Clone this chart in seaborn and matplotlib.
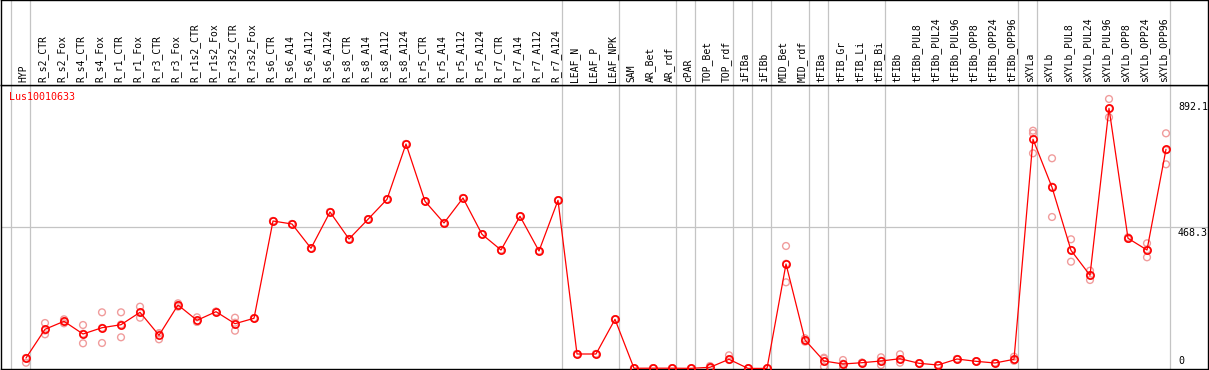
# -*- coding: utf-8 -*-
"""
Expression profile of one flax gene (Lus10010633) across tissues and treatments.

Mean expression is drawn as a red line with open markers, the individual
replicates as pale open circles behind it. Sample names sit in a header strip
above the plot, and grey rules separate the sample groups.
"""
import matplotlib
matplotlib.use("Agg")
import matplotlib.pyplot as plt
import pandas as pd
import seaborn as sns

# --- Data ---
GENE_ID = "Lus10010633"

SAMPLES = [
    "HYP", "R_s2_CTR", "R_s2_Fox", "R_s4_CTR", "R_s4_Fox", "R_r1_CTR", "R_r1_Fox",
    "R_r3_CTR", "R_r3_Fox", "R_r1s2_CTR", "R_r1s2_Fox", "R_r3s2_CTR", "R_r3s2_Fox",
    "R_s6_CTR", "R_s6_A14", "R_s6_A112", "R_s6_A124", "R_s8_CTR", "R_s8_A14",
    "R_s8_A112", "R_s8_A124", "R_r5_CTR", "R_r5_A14", "R_r5_A112", "R_r5_A124",
    "R_r7_CTR", "R_r7_A14", "R_r7_A112", "R_r7_A124", "LEAF_N", "LEAF_P", "LEAF_NPK",
    "SAM", "AR_Bet", "AR_rdf", "cPAR", "TOP_Bet", "TOP_rdf", "iFIBa", "iFIBb",
    "MID_Bet", "MID_rdf", "tFIBa", "tFIB_Gr", "tFIB_Li", "tFIB_Bi", "tFIBb",
    "tFIBb_PUL8", "tFIBb_PUL24", "tFIBb_PUL96", "tFIBb_OPP8", "tFIBb_OPP24",
    "tFIBb_OPP96", "sXYLa", "sXYLb", "sXYLb_PUL8", "sXYLb_PUL24", "sXYLb_PUL96",
    "sXYLb_OPP8", "sXYLb_OPP24", "sXYLb_OPP96",
]

MEAN_EXPR = [
    34.8, 129.8, 156.2, 114.2, 135.0, 145.0, 186.0, 109.9, 210.2, 159.5, 188.0, 148.3, 166.2,
    488.2, 478.3, 397.9, 518.0, 428.6, 493.9, 560.1, 743.1, 553.4, 481.6, 564.3, 444.2,
    392.2, 503.8, 388.9, 556.7, 48.0, 48.0, 162.8,
    0.8, 1.0, 1.0, 0.5, 4.0, 30.5, 0.3, 0.3, 345.9, 94.3,
    24.8, 14.9, 19.2, 24.8, 32.4, 17.2, 11.6, 31.4, 23.8, 18.2, 30.5,
    758.7, 599.8, 391.2, 308.5, 861.3, 431.0, 392.2, 725.6,
]

REP_A = [
    19.2, 150.6, 162.9, 144.0, 186.0, 186.0, 204.6, 116.5, 215.8, 169.5, 188.0, 168.1, 166.2,
    488.2, 478.3, 397.9, 518.0, 428.6, 493.9, 560.1, 743.1, 553.4, 481.6, 564.3, 444.2,
    392.2, 503.8, 388.9, 556.7, 48.0, 48.0, 162.8,
    0.8, 1.0, 1.0, 0.5, 8.3, 43.7, 0.3, 0.3, 405.5, 100.0,
    35.7, 28.1, 19.2, 37.1, 47.0, 17.2, 11.6, 31.4, 23.8, 18.2, 39.1,
    787.1, 695.8, 427.7, 323.7, 892.1, 434.3, 414.4, 778.5,
]

REP_B = [
    34.8, 113.2, 149.6, 83.4, 84.4, 103.3, 168.1, 96.7, 204.6, 154.9, 188.0, 125.1, 166.2,
    488.2, 478.3, 397.9, 518.0, 428.6, 493.9, 560.1, 743.1, 553.4, 481.6, 564.3, 444.2,
    392.2, 503.8, 388.9, 556.7, 48.0, 48.0, 162.8,
    0.8, 1.0, 1.0, 0.5, 2.0, 28.1, 0.3, 0.3, 285.3, 88.7,
    6.0, 0.7, 19.2, 11.6, 19.2, 17.2, 11.6, 31.4, 23.8, 18.2, 26.0,
    778.5, 501.5, 353.5, 292.9, 831.6, 429.3, 368.1, 675.9,
]

REP_C = [
    34.8, 125.6, 156.2, 115.2, 134.6, 145.7, 185.3, 116.5, 210.2, 154.1, 188.0, 151.7, 166.2,
    488.2, 478.3, 397.9, 518.0, 428.6, 493.9, 560.1, 743.1, 553.4, 481.6, 564.3, 444.2,
    392.2, 503.8, 388.9, 556.7, 48.0, 48.0, 162.8,
    0.8, 1.0, 1.0, 0.5, 1.7, 30.5, 0.3, 0.3, 346.9, 94.3,
    32.7, 15.9, 19.2, 25.7, 31.0, 17.2, 11.6, 31.4, 23.8, 18.2, 26.4,
    712.3, 602.0, 392.4, 308.9, 860.2, 429.4, 394.1, 722.4,
]

# index of the first sample of each group (a grey rule is drawn before it)
GROUP_STARTS = [0, 1, 29, 32, 35, 36, 38, 39, 40, 42, 43, 46, 53, 54, 61]

GRID_VALUE = 468.3
Y_TICK_VALUES = [892.1, 468.3, 0.0]
Y_TICK_LABELS = ["892.1", "468.3", "0"]

# --- Layout (pixels) ---
FIG_W, FIG_H = 1209, 370
DPI = 100
COL_PX = 19            # width of one sample column
FIRST_PX = 26          # x of the first data point
LEFT_PX, RIGHT_PX = 1, 1208
HEADER_PX = 85         # y of the line under the sample names
BOTTOM_PX = 369
ZERO_PX = 368.5
UNITS_PER_PX = 3.31
LABEL_DY_PX = [-8, -5.5, 7]

RED = "#ff0000"
PALE_RED = "#f09c9c"
GREY = "#c4c4c4"
FONT = "DejaVu Sans Mono"


def px_to_pos(x_px):
    """Pixel column -> sample index coordinate."""
    return (x_px - FIRST_PX) / COL_PX


def build_frames():
    pos = list(range(len(SAMPLES)))
    mean_df = pd.DataFrame({"pos": pos, "sample": SAMPLES, "expr": MEAN_EXPR})
    reps = []
    for rep in (REP_A, REP_B, REP_C):
        reps.append(pd.DataFrame({"pos": pos, "sample": SAMPLES, "expr": rep}))
    rep_df = pd.concat(reps, ignore_index=True)
    return mean_df, rep_df


def draw():
    sns.set_style("white")
    plt.rcParams["font.family"] = [FONT, "DejaVu Sans"]

    mean_df, rep_df = build_frames()
    fig = plt.figure(figsize=(FIG_W / DPI, FIG_H / DPI), dpi=DPI)

    xlim = (px_to_pos(LEFT_PX), px_to_pos(RIGHT_PX))
    ylim = ((ZERO_PX - BOTTOM_PX) * UNITS_PER_PX, (ZERO_PX - HEADER_PX) * UNITS_PER_PX)

    ax = fig.add_axes([LEFT_PX / FIG_W, (FIG_H - BOTTOM_PX) / FIG_H,
                       (RIGHT_PX - LEFT_PX) / FIG_W, (BOTTOM_PX - HEADER_PX) / FIG_H])
    hdr = fig.add_axes([LEFT_PX / FIG_W, (FIG_H - HEADER_PX) / FIG_H,
                        (RIGHT_PX - LEFT_PX) / FIG_W, HEADER_PX / FIG_H])

    # group separators and the mid grid line
    for a in (ax, hdr):
        for k in GROUP_STARTS:
            a.axvline(k - 11 / COL_PX * 1.0 - 4 / COL_PX, color=GREY, lw=0.9, zorder=0)
        a.set_xlim(*xlim)
        a.set_xticks([])
        a.set_yticks([])
        for sp in a.spines.values():
            sp.set_color("black")
            sp.set_linewidth(1.0)
    ax.axhline(GRID_VALUE, color=GREY, lw=0.9, zorder=0)

    # replicates, then mean profile on top
    sns.scatterplot(data=rep_df, x="pos", y="expr", ax=ax, marker="o", s=24,
                    facecolor="none", edgecolor=PALE_RED, linewidth=1.0,
                    legend=False, zorder=2)
    sns.lineplot(data=mean_df, x="pos", y="expr", ax=ax, color=RED, linewidth=0.9,
                 marker="o", markersize=5.2, markerfacecolor="none",
                 markeredgecolor=RED, markeredgewidth=1.2, errorbar=None,
                 legend=False, zorder=3)
    ax.set_ylim(*ylim)
    ax.set_xlabel("")
    ax.set_ylabel("")

    # value labels at the right edge
    for val, lab, dy in zip(Y_TICK_VALUES, Y_TICK_LABELS, LABEL_DY_PX):
        ax.annotate(lab, xy=(px_to_pos(1178), val), xytext=(0, dy * 72 / DPI),
                    textcoords="offset points", ha="left", va="center",
                    fontsize=7.2, color="black", annotation_clip=False)

    # sample names in the header strip
    hdr.set_ylim(0, HEADER_PX)
    for i, name in enumerate(SAMPLES):
        hdr.text(i - 2.5 / COL_PX, 2.5, name, rotation=90, ha="center", va="bottom",
                 fontsize=7.0, color="black")

    fig.text(9 / FIG_W, 1 - 97 / FIG_H, GENE_ID, color=RED, fontsize=7.2,
             ha="left", va="center")

    fig.savefig("out.png", dpi=DPI)
    plt.close(fig)


def main():
    draw()


if __name__ == "__main__":
    main()
